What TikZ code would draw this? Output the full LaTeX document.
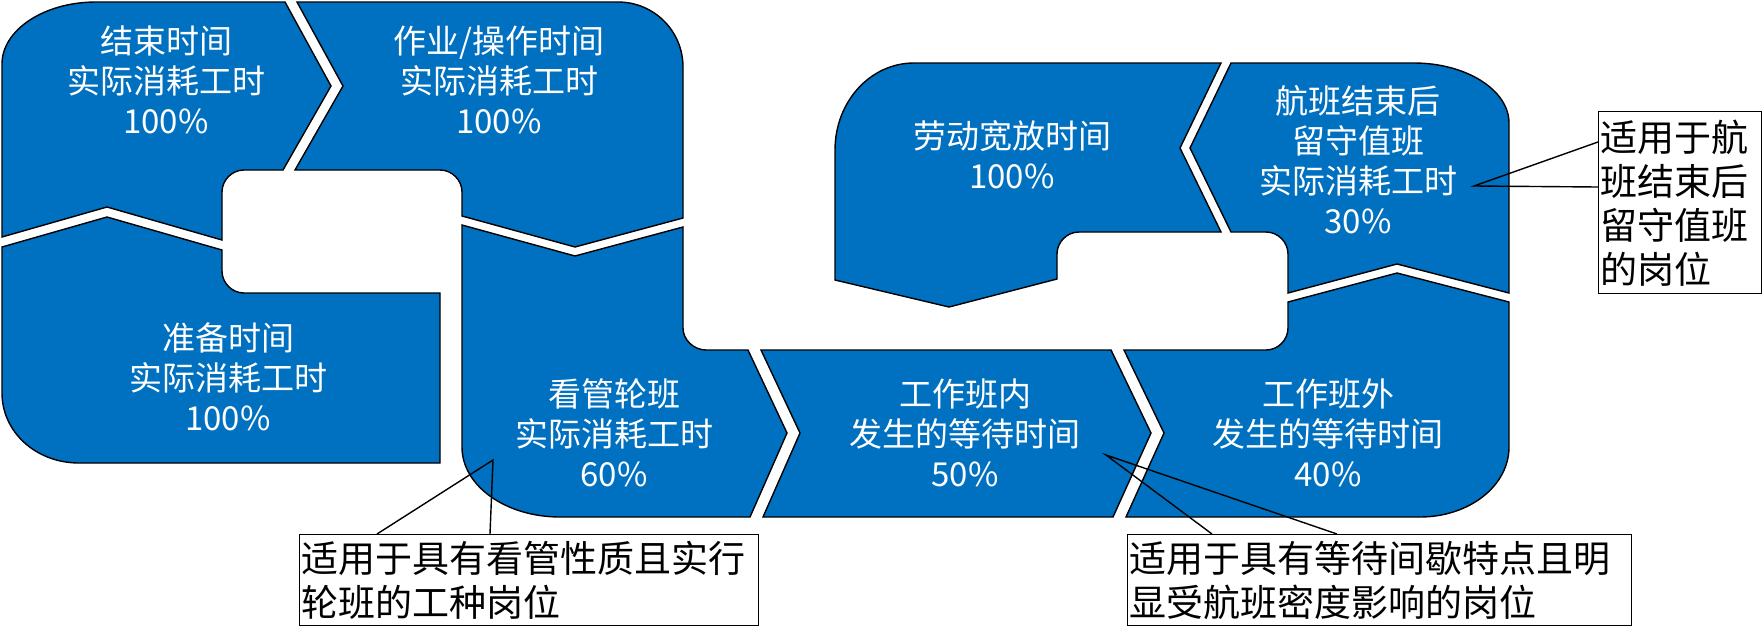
\documentclass[tikz,border=0pt]{standalone}
\usepackage{fontspec}
\setmainfont{Noto Sans CJK SC}

\definecolor{stageblue}{RGB}{0,112,192}

\begin{document}
\begin{tikzpicture}[
    x=1pt, y=-1pt,
    font=\fontsize{33}{40}\selectfont,
    blockshape/.style={
        draw=black,
        line width=1.4pt,
        fill=stageblue
    },
    blocklabel/.style={
        text=white,
        align=center,
        inner sep=0pt
    },
    notebox/.style={
        draw,
        line width=1.4pt,
        fill=white,
        anchor=north west,
        align=left,
        inner sep=2pt,
        font=\fontsize{37}{44}\selectfont
    },
    pointer/.style={line width=1.4pt}
]
\useasboundingbox (0,0) rectangle (1763,627);

% blocks
\draw[blockshape] (2,64) .. controls (2,30) and (44,2) .. (96,2) -- (285,2) -- (331,86) -- (283,170)
    -- (244,170) .. controls (232,170) and (222,180) .. (222,192) -- (222,240) -- (107,207) -- (2,237) -- cycle;
\draw[blockshape] (297,2) -- (618,2) .. controls (654,2) and (683,31) .. (683,67) -- (683,218) -- (575,247)
    -- (462,216) -- (462,192) .. controls (462,180) and (452,170) .. (440,170) -- (295,170) -- (343,86) -- cycle;
\draw[blockshape] (2,247) -- (107,217) -- (222,250) -- (222,271) .. controls (222,283) and (232,293) .. (244,293)
    -- (440,293) -- (440,463) -- (79,463) .. controls (36,463) and (2,432) .. (2,393) -- cycle;
\draw[blockshape] (462,225) -- (575,256) -- (683,227) -- (683,328) .. controls (683,340) and (694,350) .. (706,350)
    -- (748,350) -- (787,433) -- (750,517) -- (560,517) .. controls (506,517) and (462,486) .. (462,447) -- cycle;
\draw[blockshape] (761,350) -- (1111,350) -- (1151,433) -- (1113,517) -- (763,517) -- (800,433) -- cycle;
\draw[blockshape] (1124,350) -- (1266,350) .. controls (1278,350) and (1288,340) .. (1288,328) -- (1288,302)
    -- (1397,273) -- (1509,302) -- (1509,447) .. controls (1509,486) and (1469,517) .. (1420,517)
    -- (1126,517) -- (1164,433) -- cycle;
\draw[blockshape] (1231,63) -- (1414,63) .. controls (1466,63) and (1509,90) .. (1509,123) -- (1509,293)
    -- (1397,264) -- (1288,293) -- (1288,254) .. controls (1288,242) and (1278,232) .. (1266,232)
    -- (1231,232) -- (1190,148) -- cycle;
\draw[blockshape] (914,63) -- (1221,63) -- (1180,148) -- (1221,232) -- (1079,232) .. controls (1067,232) and (1057,242) .. (1057,254)
    -- (1057,279) -- (949,307) -- (835,280) -- (835,150) .. controls (835,102) and (870,63) .. (914,63) -- cycle;

\node[blocklabel] (endtime) at (166,80) {结束时间\\实际消耗工时\\100\%};
\node[blocklabel] (optime) at (499,80) {作业/操作时间\\实际消耗工时\\100\%};
\node[blocklabel] (preptime) at (228,377) {准备时间\\实际消耗工时\\100\%};
\node[blocklabel] (watchshift) at (614,433) {看管轮班\\实际消耗工时\\60\%};
\node[blocklabel] (waitin) at (965,433) {工作班内\\发生的等待时间\\50\%};
\node[blocklabel] (waitout) at (1328,433) {工作班外\\发生的等待时间\\40\%};
\node[blocklabel] (afterflight) at (1358,160) {航班结束后\\留守值班\\实际消耗工时\\30\%};
\node[blocklabel] (allowance) at (1012,155) {劳动宽放时间\\100\%};

\node[notebox, text width=455pt, minimum height=91pt] (note1) at (299,534) {适用于具有看管性质且实行\\轮班的工种岗位};
\node[notebox, text width=500pt, minimum height=91pt] (note2) at (1127,534) {适用于具有等待间歇特点且明\\显受航班密度影响的岗位};
\node[notebox, text width=159pt, minimum height=182pt] (note3) at (1598,111) {适用于航\\班结束后\\留守值班\\的岗位};

\coordinate (tip1) at (493,460);
\coordinate (tip2) at (1106,455);
\coordinate (tip3) at (1474,186);

\draw[pointer] ([xshift=78pt]note1.north west) -- (tip1) -- ([xshift=191pt]note1.north west);
\draw[pointer] ([xshift=85pt]note2.north west) -- (tip2) -- ([xshift=210pt]note2.north west);
\draw[pointer] ([yshift=-31pt]note3.north west) -- (tip3) -- ([yshift=-76pt]note3.north west);

\end{tikzpicture}
\end{document}
